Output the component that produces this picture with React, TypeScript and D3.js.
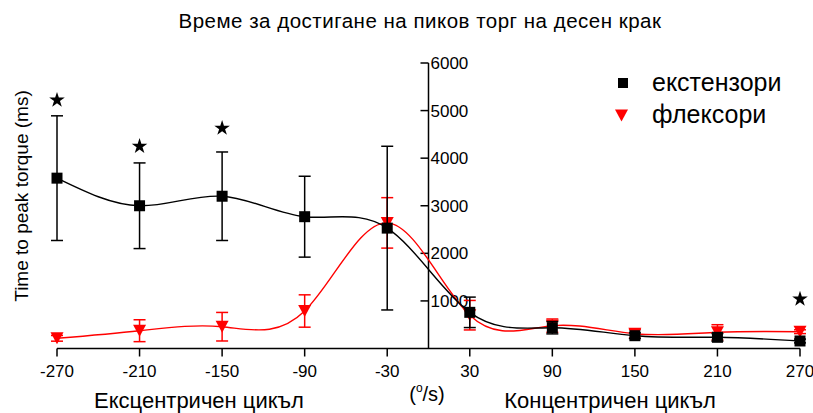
import React, { useEffect, useRef } from 'react';
import * as d3 from 'd3';

const speeds = [-270, -210, -150, -90, -30, 30, 90, 150, 210, 270];
const extMean = [3580, 3000, 3200, 2770, 2530, 760, 437, 269, 235, 158];
const extSd = [1310, 900, 930, 850, 1720, 320, 130, 60, 80, 40];
const flexMean = [214, 374, 458, 788, 2640, 700, 480, 310, 340, 353];
const flexSd = [60, 230, 300, 340, 530, 310, 140, 90, 160, 40];
const starSpeeds = [-270, -210, -150, 270];
const starLevels = [5220, 4250, 4630, 1040];
const yTicks = [1000, 2000, 3000, 4000, 5000, 6000];

const FONT = '"Liberation Sans", Arial, sans-serif';

const App = () => {
	const ref = useRef<SVGSVGElement>(null);

	useEffect(() => {
		const svg = d3.select(ref.current);
		svg.selectAll('*').remove();

		const x = d3.scaleLinear().domain([-270, 270]).range([57, 800]);
		const y = d3.scaleLinear().domain([0, 6000]).range([348.5, 63]);
		const x0 = x(0);

		const ext = speeds.map((s, i) => ({ s, m: extMean[i], sd: extSd[i] }));
		const flex = speeds.map((s, i) => ({ s, m: flexMean[i], sd: flexSd[i] }));

		// title
		svg.append('text')
			.attr('x', 420)
			.attr('y', 28)
			.attr('text-anchor', 'middle')
			.style('font-family', FONT)
			.style('font-size', '20.5px')
			.style('letter-spacing', '0.5px')
			.text('Време за достигане на пиков торг на десен крак');

		// x axis
		const xAxis = svg.append('g').attr('transform', 'translate(0,348.5)');
		xAxis.append('line')
			.attr('x1', x(-270))
			.attr('x2', x(270))
			.attr('stroke', 'black')
			.attr('stroke-width', 1.5);
		speeds.forEach(s => {
			xAxis.append('line')
				.attr('x1', x(s))
				.attr('x2', x(s))
				.attr('y1', 0)
				.attr('y2', 8)
				.attr('stroke', 'black')
				.attr('stroke-width', 1.5);
			xAxis.append('text')
				.attr('x', x(s))
				.attr('y', 28.5)
				.attr('text-anchor', 'middle')
				.style('font-family', FONT)
				.style('font-size', '17px')
				.text(s);
		});

		// y axis (sits at 0 deg/s)
		const yAxis = svg.append('g');
		yAxis.append('line')
			.attr('x1', x0)
			.attr('x2', x0)
			.attr('y1', y(0))
			.attr('y2', y(6000))
			.attr('stroke', 'black')
			.attr('stroke-width', 1.5);
		yTicks.forEach(t => {
			yAxis.append('line')
				.attr('x1', x0 - 8)
				.attr('x2', x0)
				.attr('y1', y(t))
				.attr('y2', y(t))
				.attr('stroke', 'black')
				.attr('stroke-width', 1.5);
			yAxis.append('text')
				.attr('x', x0 + 2)
				.attr('y', y(t))
				.attr('dy', '0.36em')
				.style('font-family', FONT)
				.style('font-size', '17px')
				.text(t);
		});

		svg.append('text')
			.attr('transform', 'translate(28,196) rotate(-90)')
			.attr('text-anchor', 'middle')
			.style('font-family', FONT)
			.style('font-size', '19px')
			.text('Time to peak torque (ms)');

		const line = d3.line<any>()
			.x(d => x(d.s))
			.y(d => y(d.m))
			.curve(d3.curveNatural);

		const drawSeries = (data, color, marker) => {
			const g = svg.append('g');
			g.append('path')
				.attr('d', line(data))
				.attr('fill', 'none')
				.attr('stroke', color)
				.attr('stroke-width', 1.4);
			const bars = g.selectAll('.err').data(data).enter().append('g');
			bars.append('line')
				.attr('x1', d => x(d.s))
				.attr('x2', d => x(d.s))
				.attr('y1', d => y(d.m + d.sd))
				.attr('y2', d => y(Math.max(0, d.m - d.sd)))
				.attr('stroke', color)
				.attr('stroke-width', 1.5);
			[1, -1].forEach(k => {
				bars.append('line')
					.attr('x1', d => x(d.s) - 6)
					.attr('x2', d => x(d.s) + 6)
					.attr('y1', d => y(Math.max(0, d.m + k * d.sd)))
					.attr('y2', d => y(Math.max(0, d.m + k * d.sd)))
					.attr('stroke', color)
					.attr('stroke-width', 1.5);
			});
			g.selectAll('.mk').data(data).enter().append('path')
				.attr('transform', d => `translate(${x(d.s)},${y(d.m)})`)
				.attr('d', marker)
				.attr('fill', color);
		};

		const square = 'M-5.5,-5.5H5.5V5.5H-5.5Z';
		const triangle = 'M-6.5,-6L6.5,-6L0,6Z';

		drawSeries(flex, '#ff0000', triangle);
		drawSeries(ext, '#000000', square);

		// significance stars
		svg.selectAll('.star')
			.data(starSpeeds)
			.enter()
			.append('path')
			.attr('transform', (s, i) => `translate(${x(s)},${y(starLevels[i])})`)
			.attr('d', d3.symbol(d3.symbolStar).size(75)())
			.attr('fill', 'black');

		// legend
		const legend = svg.append('g');
		legend.append('path')
			.attr('transform', 'translate(623,83)')
			.attr('d', 'M-5,-5H5V5H-5Z')
			.attr('fill', 'black');
		legend.append('text')
			.attr('x', 652)
			.attr('y', 91)
			.style('font-family', FONT)
			.style('font-size', '25px')
			.text('екстензори');
		legend.append('path')
			.attr('transform', 'translate(621.5,115.5)')
			.attr('d', triangle)
			.attr('fill', '#ff0000');
		legend.append('text')
			.attr('x', 652)
			.attr('y', 123)
			.style('font-family', FONT)
			.style('font-size', '25px')
			.text('флексори');

		// bottom labels
		svg.append('text')
			.attr('x', 199)
			.attr('y', 408)
			.attr('text-anchor', 'middle')
			.style('font-family', FONT)
			.style('font-size', '22px')
			.text('Ексцентричен цикъл');
		svg.append('text')
			.attr('x', 610)
			.attr('y', 408)
			.attr('text-anchor', 'middle')
			.style('font-family', FONT)
			.style('font-size', '22px')
			.text('Концентричен цикъл');
		const unit = svg.append('text')
			.attr('x', 427)
			.attr('y', 401)
			.attr('text-anchor', 'middle')
			.style('font-family', FONT)
			.style('font-size', '20px');
		unit.append('tspan').text('(');
		unit.append('tspan').attr('dy', -9).style('font-size', '12px').text('o');
		unit.append('tspan').attr('dy', 9).text('/s)');
	}, []);

	return (
		<svg
			ref={ref}
			width={813}
			height={413}
			style={{ position: 'absolute', left: 0, top: 0, background: 'white' }}
		/>
	);
};

export default App;
